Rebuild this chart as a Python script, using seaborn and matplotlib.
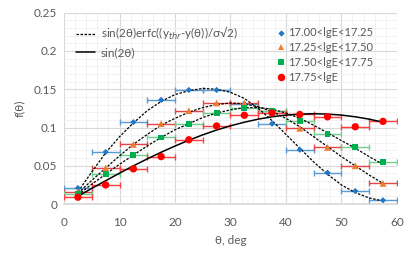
import pandas as pd
import matplotlib
matplotlib.use("Agg")
import matplotlib.pyplot as plt
from matplotlib.ticker import MultipleLocator
from matplotlib.lines import Line2D
import seaborn as sns

# bin centres, deg (bins are 5 deg wide)
theta = [2.5, 7.5, 12.5, 17.5, 22.5, 27.5, 32.5, 37.5, 42.5, 47.5, 52.5, 57.5]
half_bin = 2.5

labels = ["17.00<lgE<17.25", "17.25<lgE<17.50", "17.50<lgE<17.75", "17.75<lgE"]
f_bin1 = [0.021, 0.068, 0.107, 0.136, 0.149, 0.149, 0.131, 0.105, 0.071, 0.041, 0.017, 0.005]
f_bin2 = [0.016, 0.047, 0.078, 0.105, 0.122, 0.132, 0.132, 0.121, 0.099, 0.074, 0.050, 0.027]
f_bin3 = [0.013, 0.039, 0.064, 0.087, 0.105, 0.119, 0.125, 0.122, 0.109, 0.092, 0.075, 0.055]
f_bin4 = [0.009, 0.025, 0.046, 0.062, 0.084, 0.102, 0.116, 0.119, 0.117, 0.114, 0.101, 0.108]

# fitted curves, every 2.5 deg
theta_fit = [2.5, 5, 7.5, 10, 12.5, 15, 17.5, 20, 22.5, 25, 27.5, 30, 32.5, 35,
             37.5, 40, 42.5, 45, 47.5, 50, 52.5, 55, 57.5]
fit_bin1 = [0.016, 0.042, 0.067, 0.088, 0.106, 0.122, 0.134, 0.143, 0.148, 0.151, 0.150, 0.146,
            0.138, 0.125, 0.109, 0.091, 0.073, 0.055, 0.039, 0.025, 0.015, 0.008, 0.004]
fit_bin2 = [0.014, 0.031, 0.047, 0.063, 0.078, 0.091, 0.103, 0.112, 0.120, 0.126, 0.130, 0.132,
            0.131, 0.127, 0.121, 0.112, 0.101, 0.088, 0.075, 0.062, 0.050, 0.038, 0.027]
fit_bin3 = [0.012, 0.026, 0.039, 0.052, 0.064, 0.076, 0.087, 0.097, 0.105, 0.113, 0.119, 0.123,
            0.126, 0.126, 0.124, 0.119, 0.112, 0.103, 0.093, 0.083, 0.073, 0.062, 0.052]
fit_sin = [0.0103, 0.0205, 0.0305, 0.0404, 0.0499, 0.059, 0.0677, 0.0758, 0.0834, 0.0904, 0.0967,
           0.1022, 0.1069, 0.1109, 0.114, 0.1162, 0.1175, 0.118, 0.1175, 0.1162, 0.114, 0.1109, 0.1069]

grey = "#595959"
marker_col = ["#1f77c8", "#ED7D31", "#00B050", "#FF0000"]
err_col = ["#5B9BD5", "#E04848", "#6FD08F", "#FF4040"]
markers = ["D", "^", "s", "o"]
msize = [10, 24, 18, 28]

sns.set_theme(style="white")
plt.rcParams["font.family"] = ["Lato", "DejaVu Sans"]

fig = plt.figure(figsize=(4.16, 2.58), dpi=100)
ax = fig.add_axes([0.154, 0.209, 0.8, 0.742])

fits = pd.DataFrame({"theta": theta_fit * 4,
                     "f": fit_bin1 + fit_bin2 + fit_bin3 + fit_sin,
                     "curve": ["b1"] * 23 + ["b2"] * 23 + ["b3"] * 23 + ["sin"] * 23})
for name in ["b1", "b2", "b3"]:
    sns.lineplot(data=fits[fits.curve == name], x="theta", y="f", ax=ax, color="black",
                 lw=0.9, linestyle=(0, (2, 1.2)), zorder=4)
sns.lineplot(data=fits[fits.curve == "sin"], x="theta", y="f", ax=ax, color="black",
             lw=1.1, zorder=4)

series = [f_bin1, f_bin2, f_bin3, f_bin4]
for i, vals in enumerate(series):
    ax.errorbar(theta, vals, xerr=half_bin, fmt="none", ecolor=err_col[i], elinewidth=1.0,
                capsize=2, capthick=1.0, zorder=3)
    pts = pd.DataFrame({"theta": theta, "f": vals})
    sns.scatterplot(data=pts, x="theta", y="f", ax=ax, color=marker_col[i], marker=markers[i],
                    s=msize[i], edgecolor="none", zorder=5)

ax.set_xlim(0, 60)
ax.set_ylim(0, 0.25)
ax.xaxis.set_major_locator(MultipleLocator(10))
ax.xaxis.set_minor_locator(MultipleLocator(2))
ax.yaxis.set_major_locator(MultipleLocator(0.05))
ax.yaxis.set_minor_locator(MultipleLocator(0.01))
ax.set_yticks([0, 0.05, 0.1, 0.15, 0.2, 0.25])
ax.set_yticklabels(["0", "0.05", "0.1", "0.15", "0.2", "0.25"])
ax.grid(which="major", color="#d9d9d9", lw=0.8)
ax.grid(which="minor", color="#f0f0f0", lw=0.6)
ax.set_axisbelow(True)
for s in ["top", "right", "left"]:
    ax.spines[s].set_visible(False)
ax.spines["bottom"].set_color("#d9d9d9")
ax.tick_params(which="both", length=0, colors=grey, labelsize=8.5)
ax.tick_params(axis="x", pad=9)
ax.tick_params(axis="y", pad=5)
ax.set_xlabel("θ, deg", color=grey, fontsize=8.5)
ax.xaxis.set_label_coords(0.5, -0.16)
ax.xaxis.label.set_verticalalignment("top")
ax.set_ylabel("f(θ)", color=grey, fontsize=8.5, labelpad=6)

line_handles = [Line2D([], [], color="black", lw=0.9, linestyle=(0, (2, 1.2))),
                Line2D([], [], color="black", lw=1.1)]
leg1 = ax.legend(line_handles, ["sin(2θ)erfc((y$_{thr}$-y(θ))/σ√2)", "sin(2θ)"],
                 loc="upper left", bbox_to_anchor=(0.005, 0.99), frameon=False, fontsize=8.5,
                 handlelength=1.6, handletextpad=0.5, labelspacing=0.4, labelcolor=grey)
ax.add_artist(leg1)

pt_handles = [Line2D([], [], color=marker_col[i], marker=markers[i], linestyle="none",
                     markersize=[3.2, 5, 4.3, 5.4][i], markeredgewidth=0) for i in range(4)]
ax.legend(pt_handles, labels, loc="upper right", bbox_to_anchor=(0.96, 0.975), frameon=False,
          fontsize=8, handlelength=0.5, handletextpad=0.4, labelspacing=0.35, labelcolor=grey)

fig.savefig("out.png", dpi=100)
